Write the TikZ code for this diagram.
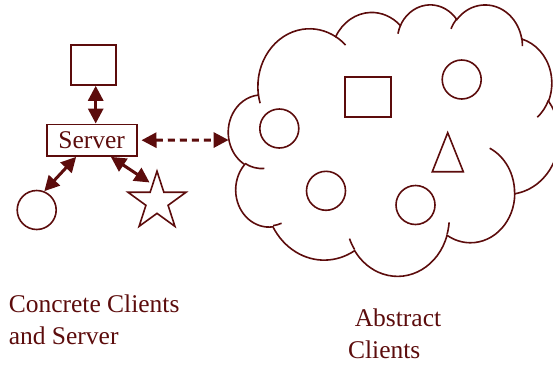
\documentclass[tikz,border=0pt]{standalone}
\usepackage{fontspec}
\setmainfont{Liberation Serif}
\usetikzlibrary{arrows.meta,shapes.geometric}
\definecolor{inkred}{RGB}{92,12,12}
% one lobe of the cloud: radii, visual start angle, sweep
\newcommand\lobe[4]{arc[x radius=#1pt, y radius=#2pt,
  start angle={atan2(#1*sin(#3),#2*cos(#3))},
  delta angle={mod(atan2(#1*sin(#3+#4),#2*cos(#3+#4))-atan2(#1*sin(#3),#2*cos(#3))+720,360)}]}

\begin{document}
\begin{tikzpicture}[x=1pt, y=-1pt, line width=1.6pt, color=inkred,
    every node/.style={font=\fontsize{25.5}{32}\selectfont},
    item/.style={draw, inner sep=0pt},
    label/.style={anchor=base west, align=left, inner sep=0pt},
    twoway/.style={line width=3pt, {Triangle[length=15pt,width=15pt]}-{Triangle[length=15pt,width=15pt]}},
    remote/.style={twoway, dash pattern=on 7pt off 5pt}]
  \useasboundingbox (0,0) rectangle (553,364);

  \node[item, minimum width=45pt, minimum height=40pt] (top) at (93.3,65) {};
  \node[item, minimum width=90pt, minimum height=31.7pt] (srv) at (91.7,140.2) {Server};
  \node[item, circle, minimum size=39pt] (ccirc) at (36.7,210) {};
  \node[item, star, star points=5, star point ratio=2.618, minimum size=61pt] (cstar) at (157,201.7) {};

  \begin{scope}[shift={(228.5,4)}, x=1pt, y=1pt, xscale=0.7653, yscale=-0.6282]
    \draw (39.00,143.70) \lobe{67.53}{91.90}{-190.4875}{123.7805}
      \lobe{53.33}{72.67}{-144.1024}{89.9452}
      \lobe{43.65}{59.45}{-145.8079}{99.7230}
      \lobe{48.57}{65.95}{-130.9861}{117.2417}
      \lobe{53.33}{72.73}{-78.7089}{109.0269}
      \lobe{67.75}{92.20}{-46.2673}{130.2690}
      \lobe{57.85}{78.67}{0.6250}{114.0333}
      \lobe{67.52}{92.15}{22.4516}{115.1726}
      \lobe{77.20}{105.43}{66.2426}{75.7110}
      \lobe{43.60}{59.18}{-274.9421}{146.7356}
      \lobe{43.45}{59.45}{-246.8285}{152.5189} -- cycle;
    \draw (46.93,261.77) \lobe{43.45}{59.45}{86.7420}{26.4295}
      (69.28,348.99) \lobe{43.60}{59.18}{73.6105}{11.4475}
      (164.78,390.90) \lobe{67.52}{92.15}{137.6242}{14.0811}
      (288.27,347.51) \lobe{67.52}{92.15}{6.4533}{15.9984}
      (341.29,229.54) \lobe{57.85}{78.67}{-70.2924}{70.9174}
      (417.98,153.54) \lobe{53.33}{72.73}{30.3180}{27.7515}
      (383.24,54.26) \lobe{48.57}{65.95}{-13.7443}{14.8589}
      (290.78,39.52) \lobe{48.57}{65.95}{-149.1815}{18.1954}
      (221.41,47.20) \lobe{43.65}{59.45}{-163.4943}{17.6864}
      (140.00,51.92) \lobe{67.53}{91.90}{-66.7070}{12.3194}
      (41.27,157.89) \lobe{67.53}{91.90}{157.6544}{11.8582};
  \end{scope}

  \node[item, minimum width=45.7pt, minimum height=40pt] (asq) at (368,96.7) {};
  \node[item, circle, minimum size=39pt] (acirc1) at (461.7,79.5) {};
  \node[item, circle, minimum size=39pt] (acirc2) at (279.3,128.5) {};
  \node[item, circle, minimum size=39pt] (acirc3) at (326,190.8) {};
  \node[item, circle, minimum size=39pt] (acirc4) at (415.5,205) {};
  \draw (447.7,132.7) -- (463.3,171.7) -- (432.3,171.7) -- cycle;

  \coordinate (toparr) at ([xshift=2.4pt]top.south);
  \coordinate (cloudwest) at (228.6,140);
  \draw[twoway] (toparr) -- (toparr |- srv.north);
  \draw[twoway] (srv.-133) -- (ccirc.68);
  \draw[twoway] (srv.-41) -- ([yshift=9pt]cstar.126);
  \draw[remote] ([xshift=4pt]srv.east) -- (cloudwest);

  \node[label] (concrete) at (8,344) {Concrete Clients\\and Server};
  \node[label] (abstract) at (347.3,358.3) {\hspace*{6.7pt}Abstract\\Clients};
\end{tikzpicture}
\end{document}
